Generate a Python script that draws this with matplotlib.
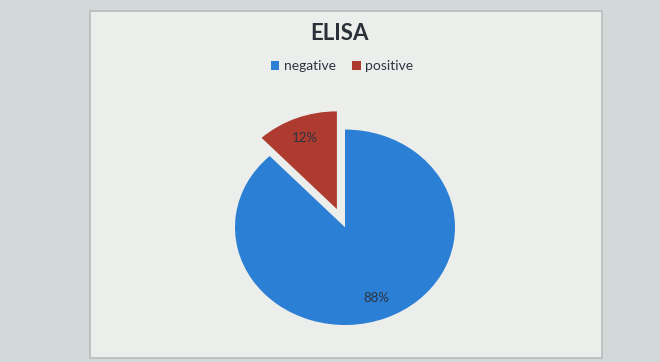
import matplotlib.pyplot as plt
from matplotlib.patches import Rectangle

plt.rcParams['font.family'] = ['Lato', 'DejaVu Sans']

# data
labels = ['negative', 'positive']
values = [88, 12]
colors = ['#2b7fd4', '#ad3b30']
explode = [0, 0.2]

fig = plt.figure(figsize=(6.6, 3.62), dpi=100, facecolor='#d3d8d8')

# chart panel (screen area in the photo)
fig.patches.append(Rectangle((90 / 660, 0.01), 512 / 660, 0.96, transform=fig.transFigure,
                             facecolor='#eceeec', edgecolor='#b8bcbc', lw=1.2, zorder=-5))

ax = fig.add_axes([235 / 660, 1 - 325 / 362, 220 / 660, 215 / 362])
ax.set_zorder(2)
wedges, texts, autotexts = ax.pie(values, colors=colors, explode=explode, startangle=90,
                                  counterclock=False, autopct='%1.0f%%', pctdistance=0.78,
                                  wedgeprops=dict(linewidth=0),
                                  textprops=dict(color='#2c3440', fontsize=9.5))
ax.set_aspect('auto')
ax.set_xlim(-1.0, 1.0)
ax.set_ylim(-1.0, 1.2)

fig.text(340 / 660, 1 - 34 / 362, 'ELISA', ha='center', va='center',
         fontsize=16, fontweight='bold', color='#2a3038')

fig.legend(wedges, labels, loc='center', bbox_to_anchor=(342 / 660, 1 - 66 / 362),
           ncol=2, frameon=False, fontsize=10, handlelength=0.6, handleheight=0.6,
           handletextpad=0.3, columnspacing=1.2, labelcolor='#2c3440')

fig.savefig('out.png', dpi=100, facecolor=fig.get_facecolor())
